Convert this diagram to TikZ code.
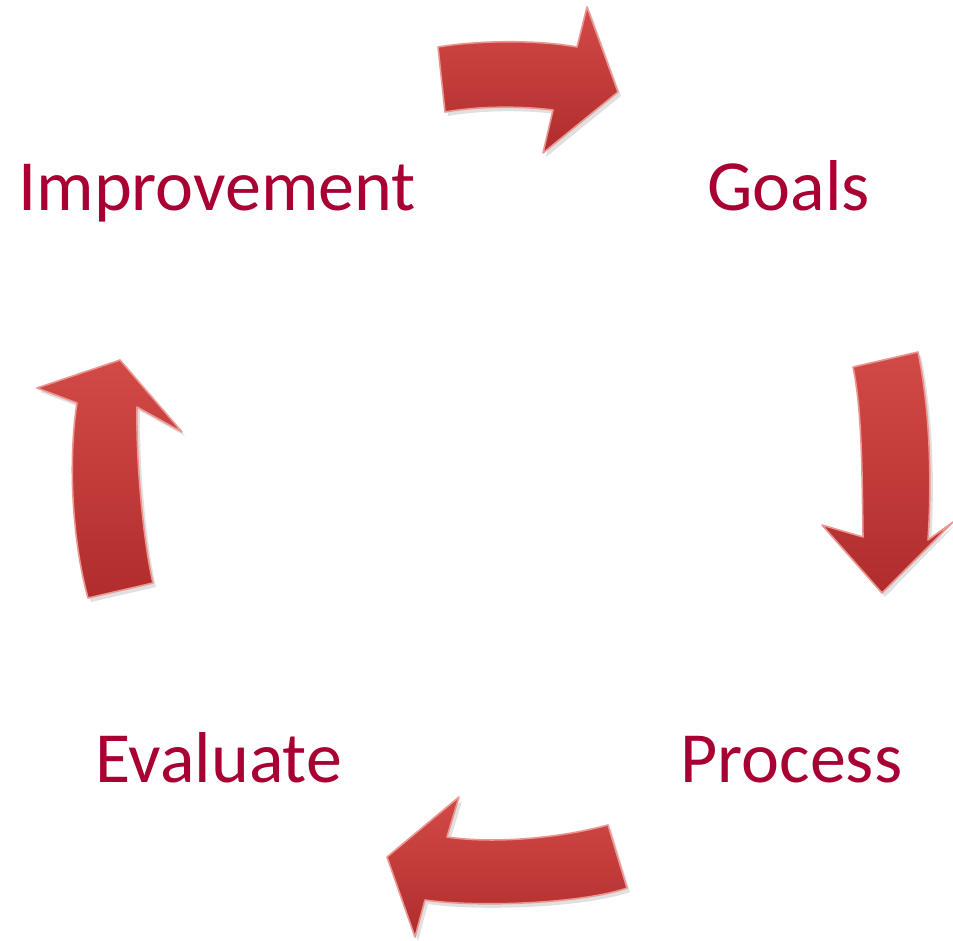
\documentclass[tikz,border=0pt]{standalone}
\usepackage{fontspec}
\setmainfont{Carlito}
\definecolor{labelred}{RGB}{168,0,50}
\definecolor{arrowtop}{RGB}{210,74,71}
\definecolor{arrowbot}{RGB}{176,45,44}
\definecolor{arrowedge}{RGB}{236,150,146}

\tikzset{
  steplabel/.style={text=labelred, inner sep=0pt, anchor=base west,
    font=\fontsize{36}{40}\selectfont},
  cyclearrow/.style={top color=arrowtop, bottom color=arrowbot,
    draw=arrowedge, line width=0.8pt, line join=round},
  arrowshadow/.style={fill=black, opacity=0.12, draw=none}
}

\begin{document}
\begin{tikzpicture}[x=0.5pt,y=-0.5pt]
\useasboundingbox (0,0) rectangle (953,941);

% the four steps of the cycle
  \node[steplabel] (improvement) at (18,211) {Improvement};
  \node[steplabel] (goals) at (707,211) {Goals};
  \node[steplabel] (process) at (680,782) {Process};
  \node[steplabel] (evaluate) at (95,782) {Evaluate};

% arrow from Improvement to Goals
  \fill[arrowshadow] (441,51) -- (448,116) .. controls (483,110) and (523,110) .. (556,114)
    -- (546,157) -- (621,96) -- (590,11) -- (580,51)
    .. controls (543,44) and (483,44) .. (441,51) -- cycle;
  \filldraw[cyclearrow] (438,47) -- (445,112) .. controls (480,106) and (520,106) .. (553,110)
    -- (543,153) -- (618,92) -- (587,7) -- (577,47)
    .. controls (540,40) and (480,40) .. (438,47) -- cycle;

% arrow from Goals to Process
  \fill[arrowshadow] (856,371) -- (921,356) .. controls (933,414) and (935,484) .. (931,544)
    -- (953,527) -- (885,597) -- (825,529) -- (866,541)
    .. controls (865,474) and (865,414) .. (856,371) -- cycle;
  \filldraw[cyclearrow] (853,367) -- (918,352) .. controls (930,410) and (932,480) .. (928,540)
    -- (953,522) -- (882,593) -- (822,525) -- (863,537)
    .. controls (862,470) and (862,410) .. (853,367) -- cycle;

% arrow from Process to Evaluate
  \fill[arrowshadow] (611,829) -- (630,892) .. controls (588,907) and (483,912) .. (428,904)
    -- (418,941) -- (390,861) -- (462,801) -- (450,841)
    .. controls (498,848) and (563,842) .. (611,829) -- cycle;
  \filldraw[cyclearrow] (608,825) -- (627,888) .. controls (585,903) and (480,908) .. (425,900)
    -- (415,937) -- (387,857) -- (459,797) -- (447,837)
    .. controls (495,844) and (560,838) .. (608,825) -- cycle;

% arrow from Evaluate to Improvement
  \fill[arrowshadow] (91,602) -- (156,587) .. controls (146,544) and (139,464) .. (140,411)
    -- (185,436) -- (123,364) -- (40,392) -- (80,407)
    .. controls (71,464) and (75,544) .. (91,602) -- cycle;
  \filldraw[cyclearrow] (88,598) -- (153,583) .. controls (143,540) and (136,460) .. (137,407)
    -- (182,432) -- (120,360) -- (37,388) -- (77,403)
    .. controls (68,460) and (72,540) .. (88,598) -- cycle;

\end{tikzpicture}
\end{document}
